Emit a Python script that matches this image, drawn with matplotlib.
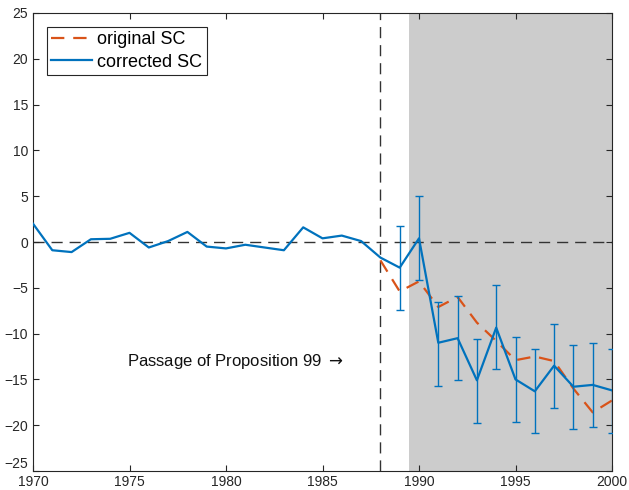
import matplotlib.pyplot as plt
import numpy as np

plt.rcParams["font.family"] = ["Liberation Sans", "DejaVu Sans"]
plt.rcParams["mathtext.fontset"] = "dejavusans"

years = list(range(1970, 2001))
corrected_sc = [2.0, -0.9, -1.1, 0.3, 0.35, 1.0, -0.6, 0.1, 1.1, -0.5,
                -0.7, -0.3, -0.6, -0.9, 1.6, 0.4, 0.7, 0.1, -1.7, -2.8,
                0.4, -11.0, -10.5, -15.1, -9.35, -15.0, -16.3, -13.5, -15.8, -15.6,
                -16.2]

orig_years = list(range(1988, 2001))
original_sc = [-2.0, -5.4, -4.3, -7.1, -6.0, -8.8, -10.8, -12.9, -12.5, -13.0,
               -16.0, -18.6, -17.3]

err_years = list(range(1989, 2001))
err_upper = [1.7, 5.05, -6.5, -5.9, -10.6, -4.7, -10.4, -11.7, -8.9, -11.2, -11.0, -11.7]
err_lower = [-7.4, -4.1, -15.7, -15.1, -19.8, -13.9, -19.6, -20.9, -18.1, -20.4, -20.2, -20.9]

BLUE = "#0072BD"
ORANGE = "#D95319"

fig = plt.figure(figsize=(6.29, 4.9), dpi=100)
ax = fig.add_axes([33 / 629, 19 / 490, 579 / 629, 458 / 490])

ax.axvspan(1989.5, 2000, color="#cccccc", lw=0, zorder=0)
ax.axhline(0, color="#333333", lw=1, ls=(0, (8, 5)), zorder=1)
ax.axvline(1988, color="#333333", lw=1, ls=(0, (8, 5)), zorder=1)

ax.plot(orig_years, original_sc, color=ORANGE, lw=1.6, ls=(0, (6, 4)),
        label="original SC", zorder=3)
ax.plot(years, corrected_sc, color=BLUE, lw=1.6, label="corrected SC", zorder=4)

mid = np.array([corrected_sc[years.index(y)] for y in err_years])
up = np.array(err_upper) - mid
lo = mid - np.array(err_lower)
ax.errorbar(err_years, mid, yerr=[lo, up], fmt="none", ecolor=BLUE,
            elinewidth=1.0, capsize=3, capthick=1.0, zorder=4)

ax.text(1986.1, -13.1, "Passage of Proposition 99 $\\rightarrow$", ha="right",
        va="center", fontsize=12, color="#111111")

ax.set_xlim(1970, 2000)
ax.set_ylim(-25, 25)
ax.set_xticks(range(1970, 2001, 5))
ax.set_yticks(range(-25, 26, 5))
ax.tick_params(direction="in", top=True, right=True, labelsize=10,
               colors="#262626", length=4)
ax.tick_params(axis="x", pad=3)
ax.get_yticklabels()[0].set_va("bottom")
for s in ax.spines.values():
    s.set_color("#262626")
    s.set_linewidth(0.8)

leg = ax.legend(loc="upper left", bbox_to_anchor=(0.024, 0.97), fontsize=13,
                fancybox=False, edgecolor="#262626", framealpha=1,
                handlelength=2.25, borderpad=0.25, labelspacing=0.3,
                handletextpad=0.3, borderaxespad=0)
leg.get_frame().set_linewidth(0.8)

fig.savefig("out.png", dpi=100)
